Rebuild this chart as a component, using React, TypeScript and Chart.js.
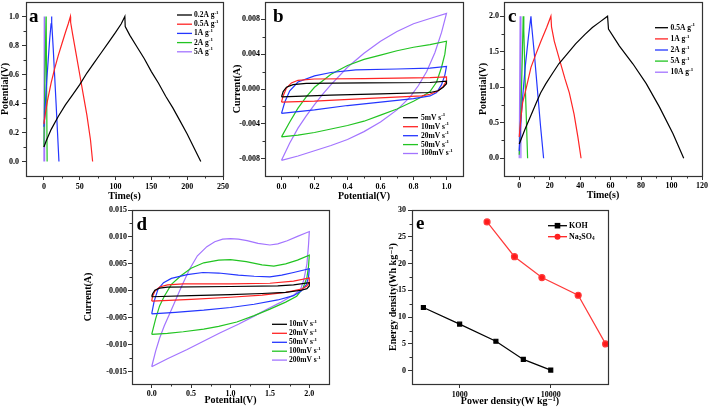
import React, { useEffect, useRef } from "react";
import { Chart, registerables } from "chart.js";
Chart.register(...registerables);

const FONT = "'Liberation Serif', 'Times New Roman', 'DejaVu Serif', serif";
const BLACK = "#000000";
const RED = "#ff2424";
const BLUE = "#2436ff";
const GREEN = "#22c422";
const PURPLE = "#a374ff";
const AXIS = "#333333";

type Pt = [number, number];

// ---------- Panel a: GCD (Time s, Potential V) ----------
const gcdA_02: Pt[] = [[0,0.10],[3,0.14],[10,0.22],[20,0.31],[30,0.39],[40,0.46],[50,0.53],[60,0.61],[70,0.68],[80,0.75],[90,0.82],[100,0.89],[108,0.95],[113,1.0],[113.5,0.93],[120,0.87],[130,0.79],[140,0.71],[150,0.62],[160,0.54],[170,0.45],[180,0.37],[190,0.28],[200,0.19],[210,0.09],[219,0.0]];
const gcdA_05: Pt[] = [[0,0.26],[2,0.33],[5,0.42],[10,0.54],[15,0.64],[20,0.73],[25,0.81],[30,0.89],[34,0.95],[37,1.0],[37.3,0.96],[40,0.88],[45,0.74],[50,0.60],[55,0.46],[60,0.32],[65,0.15],[68,0.0]];
const gcdA_1: Pt[] = [[0,0.24],[1,0.30],[2,0.40],[4,0.56],[6,0.70],[8,0.84],[10,0.95],[10.7,1.0],[11,0.96],[13,0.78],[15,0.59],[17,0.40],[19,0.20],[21,0.0]];
const gcdA_2: Pt[] = [[0,0.10],[1.5,0.60],[3,1.0],[3.2,0.96],[4.5,0.0]];
const gcdA_5: Pt[] = [[0,0.0],[0.5,1.0],[1.0,0.0]];

// ---------- Panel b: CV (Potential V, Current A) ----------
const cvB_5: Pt[] = [[0,-0.0009],[0.01,-0.0003],[0.03,0.0002],[0.07,0.0005],[0.15,0.00065],[0.5,0.0007],[0.9,0.00075],[1.0,0.0009],[1.0,0.0006],[0.98,0.0002],[0.95,-0.0002],[0.9,-0.0004],[0.6,-0.00055],[0.3,-0.0007],[0,-0.0009]];
const cvB_10: Pt[] = [[0,-0.0015],[0.01,-0.0008],[0.03,0.0001],[0.06,0.0007],[0.1,0.001],[0.2,0.00115],[0.5,0.0012],[0.9,0.0013],[1.0,0.0014],[1.0,0.0009],[0.98,0.0003],[0.95,-0.0002],[0.9,-0.0006],[0.85,-0.0008],[0.5,-0.0011],[0.2,-0.0014],[0,-0.0015]];
const cvB_20: Pt[] = [[0,-0.0028],[0.02,-0.0015],[0.05,-0.0002],[0.1,0.0008],[0.2,0.0015],[0.3,0.0019],[0.45,0.0022],[0.7,0.0023],[0.9,0.0024],[1.0,0.0026],[0.99,0.0016],[0.97,0.0005],[0.94,-0.0004],[0.9,-0.0008],[0.8,-0.0011],[0.6,-0.0015],[0.4,-0.0019],[0.2,-0.0024],[0,-0.0028]];
const cvB_50: Pt[] = [[0,-0.0055],[0.05,-0.0038],[0.1,-0.0022],[0.15,-0.0009],[0.2,0.0002],[0.3,0.0017],[0.4,0.0027],[0.5,0.0034],[0.6,0.0039],[0.7,0.0044],[0.8,0.0048],[0.9,0.0051],[1.0,0.0055],[0.99,0.004],[0.97,0.0025],[0.94,0.0008],[0.9,-0.0003],[0.85,-0.0009],[0.8,-0.0014],[0.7,-0.0023],[0.6,-0.0030],[0.5,-0.0037],[0.4,-0.0042],[0.3,-0.0046],[0.2,-0.0050],[0.1,-0.0053],[0,-0.0055]];
const cvB_100: Pt[] = [[0,-0.0082],[0.05,-0.0062],[0.1,-0.0045],[0.15,-0.0031],[0.2,-0.0018],[0.25,-0.0006],[0.3,0.0005],[0.4,0.0025],[0.5,0.0041],[0.6,0.0055],[0.7,0.0066],[0.8,0.0075],[0.9,0.0081],[1.0,0.0087],[0.97,0.0065],[0.93,0.0042],[0.88,0.002],[0.83,0.0004],[0.78,-0.0009],[0.7,-0.0024],[0.6,-0.0038],[0.5,-0.0049],[0.4,-0.0058],[0.3,-0.0065],[0.2,-0.0071],[0.1,-0.0077],[0,-0.0082]];

// ---------- Panel c: GCD (Time s, Potential V) ----------
const gcdC_05: Pt[] = [[0,0.2],[4,0.42],[8,0.62],[11,0.77],[14,0.92],[17.5,1.05],[22,1.2],[26,1.33],[30,1.43],[37,1.61],[43,1.74],[48,1.84],[53,1.92],[58,2.0],[58.6,1.82],[65.8,1.58],[74.6,1.33],[83.4,1.05],[92.1,0.72],[100.9,0.35],[108,0.0]];
const gcdC_1: Pt[] = [[0,0.3],[1,0.55],[2.2,0.78],[4.4,0.97],[7.7,1.28],[11,1.47],[14.3,1.65],[18,1.84],[20.8,2.0],[21.2,1.85],[23,1.65],[26.3,1.40],[30,1.12],[32.9,0.92],[36,0.62],[38.5,0.3],[40.6,0.0]];
const gcdC_2: Pt[] = [[0,0.1],[1,0.5],[2,0.8],[4,1.3],[6,1.7],[7.7,2.0],[8,1.9],[10,1.45],[12,0.95],[14,0.45],[16,0.0]];
const gcdC_5: Pt[] = [[0,0.05],[1,0.6],[2,1.4],[2.6,2.0],[3,1.8],[4,1.0],[5.5,0.0]];
const gcdC_10: Pt[] = [[0,0.0],[0.6,2.0],[1.1,0.0]];

// ---------- Panel d: CV (Potential V, Current A) ----------
const cvD_10: Pt[] = [[0,-0.0011],[0.01,-0.0006],[0.04,0.0001],[0.1,0.0005],[0.2,0.0007],[1.0,0.0008],[1.6,0.0009],[1.8,0.0011],[2.0,0.0015],[2.0,0.0009],[1.97,0.0004],[1.9,0.0001],[1.7,-0.0003],[1.4,-0.0005],[1.0,-0.0007],[0.5,-0.0009],[0,-0.0011]];
const cvD_20: Pt[] = [[0,-0.0019],[0.01,-0.0011],[0.04,-0.0001],[0.1,0.0007],[0.2,0.0011],[0.4,0.0013],[1.0,0.0013],[1.5,0.0014],[1.8,0.0018],[2.0,0.0024],[2.0,0.0016],[1.97,0.0009],[1.9,0.0003],[1.7,-0.0003],[1.4,-0.0008],[1.0,-0.0012],[0.5,-0.0016],[0,-0.0019]];
const cvD_50: Pt[] = [[0,-0.0043],[0.03,-0.002],[0.08,0.0003],[0.15,0.0015],[0.25,0.0023],[0.45,0.003],[0.65,0.0034],[0.85,0.0033],[1.1,0.0029],[1.3,0.0027],[1.5,0.0026],[1.65,0.0029],[1.8,0.0034],[2.0,0.0041],[1.99,0.0025],[1.96,0.0011],[1.9,0.0],[1.8,-0.0009],[1.6,-0.0017],[1.3,-0.0025],[1.0,-0.0031],[0.66,-0.0036],[0.3,-0.004],[0,-0.0043]];
const cvD_100: Pt[] = [[0,-0.0081],[0.05,-0.0052],[0.1,-0.0028],[0.16,-0.0010],[0.25,0.0012],[0.37,0.0028],[0.5,0.0042],[0.66,0.0052],[0.85,0.0057],[1.0,0.0058],[1.2,0.0054],[1.4,0.0048],[1.55,0.0046],[1.7,0.005],[1.85,0.0057],[2.0,0.0066],[1.99,0.0045],[1.97,0.0025],[1.92,0.0005],[1.84,-0.001],[1.7,-0.0021],[1.5,-0.0034],[1.3,-0.0046],[1.08,-0.0058],[0.85,-0.0066],[0.66,-0.0071],[0.4,-0.0076],[0.2,-0.0079],[0,-0.0081]];
const cvD_200: Pt[] = [[0,-0.0141],[0.05,-0.0112],[0.1,-0.0088],[0.16,-0.0065],[0.25,-0.0035],[0.37,0.0005],[0.48,0.0040],[0.58,0.0065],[0.7,0.0082],[0.8,0.0091],[0.9,0.0096],[1.0,0.0097],[1.1,0.0096],[1.21,0.0093],[1.35,0.0088],[1.5,0.0085],[1.6,0.0087],[1.72,0.0093],[1.85,0.0101],[2.0,0.011],[1.99,0.0085],[1.97,0.005],[1.93,0.002],[1.89,0.0003],[1.8,-0.0008],[1.63,-0.0022],[1.45,-0.0035],[1.3,-0.0047],[1.1,-0.0062],[0.87,-0.0078],[0.65,-0.0094],[0.45,-0.0109],[0.2,-0.0126],[0,-0.0141]];

// ---------- Panel e: Ragone ----------
const powerKOH = [400, 1000, 2500, 5000, 10000];
const energyKOH = [11.8, 8.7, 5.5, 2.1, 0.1];
const powerNa = [2000, 4000, 8000, 20000, 40000];
const energyNa = [27.8, 21.3, 17.4, 14.1, 5.0];

// ---------- Tick labels ----------
const ticksA_X = [0, 50, 100, 150, 200, 250];
const ticksA_Y = [0, 0.2, 0.4, 0.6, 0.8, 1.0];
const ticksB_X = [0, 0.2, 0.4, 0.6, 0.8, 1.0];
const ticksB_Y = [-0.008, -0.004, 0, 0.004, 0.008];
const ticksC_X = [0, 20, 40, 60, 80, 100, 120];
const ticksC_Y = [0, 0.5, 1.0, 1.5, 2.0];
const ticksD_X = [0, 0.5, 1.0, 1.5, 2.0];
const ticksD_Y = [-0.015, -0.01, -0.005, 0, 0.005, 0.01, 0.015];
const ticksE_X = [1000, 10000];
const ticksE_Y = [0, 5, 10, 15, 20, 25, 30];

const legendA = ["0.2A g^{-1}", "0.5A g^{-1}", "1A g^{-1}", "2A g^{-1}", "5A g^{-1}"];
const legendB = ["5mV s^{-1}", "10mV s^{-1}", "20mV s^{-1}", "50mV s^{-1}", "100mV s^{-1}"];
const legendC = ["0.5A g^{-1}", "1A g^{-1}", "2A g^{-1}", "5A g^{-1}", "10A g^{-1}"];
const legendD = ["10mV s^{-1}", "20mV s^{-1}", "50mV s^{-1}", "100mV s^{-1}", "200mV s^{-1}"];
const legendE = ["KOH", "Na_{2}SO_{4}"];

const COLORS5 = [BLACK, RED, BLUE, GREEN, PURPLE];

const xy = (a: Pt[]) => a.map(([x, y]) => ({ x, y }));
const zipXY = (xs: number[], ys: number[]) => xs.map((x, i) => ({ x, y: ys[i] }));
const between = (majors: number[]) => {
  const out: number[] = [];
  for (let i = 0; i < majors.length - 1; i++) out.push((majors[i] + majors[i + 1]) / 2);
  return out;
};

function lineSet(label: string, pts: Pt[], color: string) {
  return {
    label,
    data: xy(pts),
    showLine: true,
    borderColor: color,
    backgroundColor: color,
    borderWidth: 1.2,
    pointRadius: 0,
    tension: 0,
  };
}

function drawRich(ctx: CanvasRenderingContext2D, text: string, x: number, y: number, size: number) {
  const parts = text.split(/(\^\{[^}]*\}|_\{[^}]*\})/).filter((p) => p.length > 0);
  let cx = x;
  for (const p of parts) {
    let s = p;
    let sz = size;
    let dy = 0;
    if (p.startsWith("^{")) {
      s = p.slice(2, -1);
      sz = size * 0.65;
      dy = -size * 0.35;
    } else if (p.startsWith("_{")) {
      s = p.slice(2, -1);
      sz = size * 0.65;
      dy = size * 0.25;
    }
    ctx.font = `bold ${sz}px ${FONT}`;
    ctx.fillText(s, cx, y + dy);
    cx += ctx.measureText(s).width;
  }
}

interface AxisCfg {
  type?: string;
  min: number;
  max: number;
  major: number[];
  minor: number[];
  fmt: (v: number) => string;
  title: string;
  titlePad: number;
  tickPad: number;
}

interface LegendCfg {
  x1: number;
  x2: number;
  tx: number;
  rows: number[];
  texts: string[];
  colors: string[];
  markers?: string[];
  size: number;
}

interface PanelCfg {
  left: number;
  top: number;
  width: number;
  height: number;
  box: { l: number; t: number; r: number; b: number };
  x: AxisCfg;
  y: AxisCfg;
  datasets: any[];
  label: { text: string; x: number; y: number };
  legend: LegendCfg;
}

const panels: PanelCfg[] = [
  {
    left: 0, top: 0, width: 232, height: 205,
    box: { l: 26, t: 2, r: 223, b: 176 },
    x: { min: -25, max: 250, major: ticksA_X, minor: between(ticksA_X), fmt: (v) => String(v), title: "Time(s)", titlePad: 4, tickPad: 2 },
    y: { min: -0.1, max: 1.1, major: ticksA_Y, minor: [0.1, 0.3, 0.5, 0.7, 0.9], fmt: (v) => v.toFixed(1), title: "Potential(V)", titlePad: 0, tickPad: 3 },
    datasets: [
      lineSet(legendA[0], gcdA_02, BLACK),
      lineSet(legendA[1], gcdA_05, RED),
      lineSet(legendA[2], gcdA_1, BLUE),
      lineSet(legendA[3], gcdA_2, GREEN),
      lineSet(legendA[4], gcdA_5, PURPLE),
    ],
    label: { text: "a", x: 29, y: 22 },
    legend: { x1: 177, x2: 192, tx: 194, rows: [15, 24.2, 33.4, 42.6, 51.8], texts: legendA, colors: COLORS5, size: 7.5 },
  },
  {
    left: 232, top: 0, width: 240, height: 205,
    box: { l: 265, t: 2, r: 463, b: 176 },
    x: { min: -0.1, max: 1.1, major: ticksB_X, minor: between(ticksB_X), fmt: (v) => v.toFixed(1), title: "Potential(V)", titlePad: 4, tickPad: 2 },
    y: { min: -0.01, max: 0.01, major: ticksB_Y, minor: between(ticksB_Y), fmt: (v) => v.toFixed(3), title: "Current(A)", titlePad: 0, tickPad: 1 },
    datasets: [
      lineSet(legendB[0], cvB_5, BLACK),
      lineSet(legendB[1], cvB_10, RED),
      lineSet(legendB[2], cvB_20, BLUE),
      lineSet(legendB[3], cvB_50, GREEN),
      lineSet(legendB[4], cvB_100, PURPLE),
    ],
    label: { text: "b", x: 273, y: 22 },
    legend: { x1: 403, x2: 418, tx: 421, rows: [117.7, 126.7, 135.7, 144.6, 153.5], texts: legendB, colors: COLORS5, size: 7.5 },
  },
  {
    left: 472, top: 0, width: 237, height: 205,
    box: { l: 504, t: 2, r: 702, b: 176 },
    x: { min: -10, max: 120, major: ticksC_X, minor: between(ticksC_X), fmt: (v) => String(v), title: "Time(s)", titlePad: 4.5, tickPad: 1 },
    y: { min: -0.25, max: 2.2, major: ticksC_Y, minor: between(ticksC_Y), fmt: (v) => v.toFixed(1), title: "Potential(V)", titlePad: 6.5, tickPad: 1 },
    datasets: [
      lineSet(legendC[0], gcdC_05, BLACK),
      lineSet(legendC[1], gcdC_1, RED),
      lineSet(legendC[2], gcdC_2, BLUE),
      lineSet(legendC[3], gcdC_5, GREEN),
      lineSet(legendC[4], gcdC_10, PURPLE),
    ],
    label: { text: "c", x: 508, y: 21.7 },
    legend: { x1: 655, x2: 668, tx: 670.5, rows: [27.7, 38.9, 50, 61.1, 72.2], texts: legendC, colors: COLORS5, size: 7.5 },
  },
  {
    left: 80, top: 205, width: 260, height: 206,
    box: { l: 132, t: 210, r: 329, b: 384 },
    x: { min: -0.25, max: 2.25, major: ticksD_X, minor: between(ticksD_X), fmt: (v) => v.toFixed(1), title: "Potential(V)", titlePad: 6, tickPad: 1 },
    y: { min: -0.0173, max: 0.015, major: ticksD_Y, minor: between(ticksD_Y), fmt: (v) => v.toFixed(3), title: "Current(A)", titlePad: 3, tickPad: 1 },
    datasets: [
      lineSet(legendD[0], cvD_10, BLACK),
      lineSet(legendD[1], cvD_20, RED),
      lineSet(legendD[2], cvD_50, BLUE),
      lineSet(legendD[3], cvD_100, GREEN),
      lineSet(legendD[4], cvD_200, PURPLE),
    ],
    label: { text: "d", x: 136.5, y: 230 },
    legend: { x1: 272, x2: 287, tx: 289, rows: [324.3, 333.3, 342.3, 351.2, 360.1], texts: legendD, colors: COLORS5, size: 7.5 },
  },
  {
    left: 380, top: 205, width: 245, height: 206,
    box: { l: 412, t: 210, r: 608, b: 384 },
    x: { type: "logarithmic", min: 300, max: 42500, major: ticksE_X, minor: [], fmt: (v) => String(v), title: "Power density(W kg⁻¹)", titlePad: 5, tickPad: 2 },
    y: { min: -2.5, max: 30, major: ticksE_Y, minor: between(ticksE_Y), fmt: (v) => String(v), title: "Energy density(Wh kg⁻¹)", titlePad: 8, tickPad: 2 },
    datasets: [
      {
        label: "KOH", data: zipXY(powerKOH, energyKOH), showLine: true,
        borderColor: BLACK, backgroundColor: BLACK, borderWidth: 1.2,
        pointStyle: "rect", pointRadius: 2.8, tension: 0,
      },
      {
        label: "Na2SO4", data: zipXY(powerNa, energyNa), showLine: true,
        borderColor: "#ff3b3b", backgroundColor: "#ff1a1a", borderWidth: 1.2,
        pointStyle: "circle", pointRadius: 3, tension: 0,
      },
    ],
    label: { text: "e", x: 416, y: 229.3 },
    legend: { x1: 548, x2: 567, tx: 569, rows: [225.7, 236.7], texts: legendE, colors: [BLACK, "#ff2020"], markers: ["rect", "circle"], size: 8 },
  },
];

function makeExtras(p: PanelCfg) {
  return {
    id: "extras" + p.label.text,
    afterDatasetsDraw(chart: any) {
      const ctx: CanvasRenderingContext2D = chart.ctx;
      const ca = chart.chartArea;
      const xs = chart.scales.x;
      const ys = chart.scales.y;
      ctx.save();
      ctx.strokeStyle = AXIS;
      ctx.lineWidth = 1;
      for (const v of p.x.minor) {
        const px = Math.round(xs.getPixelForValue(v)) + 0.5;
        ctx.beginPath();
        ctx.moveTo(px, ca.bottom);
        ctx.lineTo(px, ca.bottom + 2.5);
        ctx.stroke();
      }
      for (const v of p.y.minor) {
        const py = Math.round(ys.getPixelForValue(v)) + 0.5;
        ctx.beginPath();
        ctx.moveTo(ca.left, py);
        ctx.lineTo(ca.left - 2.5, py);
        ctx.stroke();
      }
      ctx.lineWidth = 1.2;
      ctx.strokeRect(Math.round(ca.left) + 0.5, Math.round(ca.top) + 0.5, Math.round(ca.right - ca.left), Math.round(ca.bottom - ca.top));

      // panel letter
      ctx.fillStyle = "#000";
      ctx.textBaseline = "alphabetic";
      ctx.textAlign = "left";
      ctx.font = `bold 19px ${FONT}`;
      ctx.fillText(p.label.text, p.label.x - p.left, p.label.y - p.top);

      // legend
      const lg = p.legend;
      ctx.textBaseline = "middle";
      lg.rows.forEach((ry, i) => {
        const y = ry - p.top;
        ctx.strokeStyle = lg.colors[i];
        ctx.lineWidth = 1.3;
        ctx.beginPath();
        ctx.moveTo(lg.x1 - p.left, y);
        ctx.lineTo(lg.x2 - p.left, y);
        ctx.stroke();
        if (lg.markers) {
          const cx = (lg.x1 + lg.x2) / 2 - p.left;
          ctx.fillStyle = lg.colors[i];
          if (lg.markers[i] === "rect") ctx.fillRect(cx - 2.8, y - 2.8, 5.6, 5.6);
          else {
            ctx.beginPath();
            ctx.arc(cx, y, 3, 0, Math.PI * 2);
            ctx.fill();
          }
        }
        ctx.fillStyle = "#000";
        drawRich(ctx, lg.texts[i], lg.tx - p.left, y, lg.size);
      });
      ctx.restore();
    },
  };
}

function axisOptions(a: AxisCfg, horizontal: boolean, size: number) {
  return {
    type: a.type || "linear",
    min: a.min,
    max: a.max,
    afterBuildTicks: (s: any) => {
      s.ticks = a.major.map((v) => ({ value: v }));
    },
    afterFit: (s: any) => {
      if (horizontal) {
        s.height = size;
        s.paddingLeft = 0;
        s.paddingRight = 0;
      } else {
        s.width = size;
        s.paddingTop = 0;
        s.paddingBottom = 0;
      }
    },
    grid: { display: true, drawOnChartArea: false, drawTicks: true, tickLength: 4, tickColor: AXIS, tickWidth: 1 },
    border: { display: false },
    ticks: {
      color: "#000",
      font: { family: FONT, size: 8, weight: "bold" },
      padding: a.tickPad,
      maxRotation: 0,
      autoSkip: false,
      callback: (v: any) => a.fmt(Number(v)),
    },
    title: {
      display: true,
      text: a.title,
      color: "#000",
      font: { family: FONT, size: 10, weight: "bold", lineHeight: 1 },
      padding: { top: a.titlePad, bottom: a.titlePad },
    },
  };
}

function Panel({ p }: { p: PanelCfg }) {
  const ref = useRef<HTMLCanvasElement | null>(null);
  useEffect(() => {
    if (!ref.current) return;
    const chart = new Chart(ref.current, {
      type: "scatter",
      data: { datasets: p.datasets },
      options: {
        animation: false,
        responsive: false,
        devicePixelRatio: 1,
        events: [],
        layout: { padding: { left: 0, top: p.box.t - p.top, right: p.left + p.width - p.box.r, bottom: 0 } },
        plugins: { legend: { display: false }, tooltip: { enabled: false } },
        scales: {
          x: axisOptions(p.x, true, p.top + p.height - p.box.b) as any,
          y: axisOptions(p.y, false, p.box.l - p.left) as any,
        },
      },
      plugins: [makeExtras(p)],
    } as any);
    return () => chart.destroy();
  }, [p]);
  return (
    <canvas
      ref={ref}
      width={p.width}
      height={p.height}
      style={{ position: "absolute", left: p.left, top: p.top, width: p.width, height: p.height, display: "block" }}
    />
  );
}

export default function App() {
  return (
    <div style={{ position: "fixed", left: 0, top: 0, width: 709, height: 411, background: "#fff", overflow: "hidden" }}>
      {panels.map((p) => (
        <Panel key={p.label.text} p={p} />
      ))}
    </div>
  );
}
